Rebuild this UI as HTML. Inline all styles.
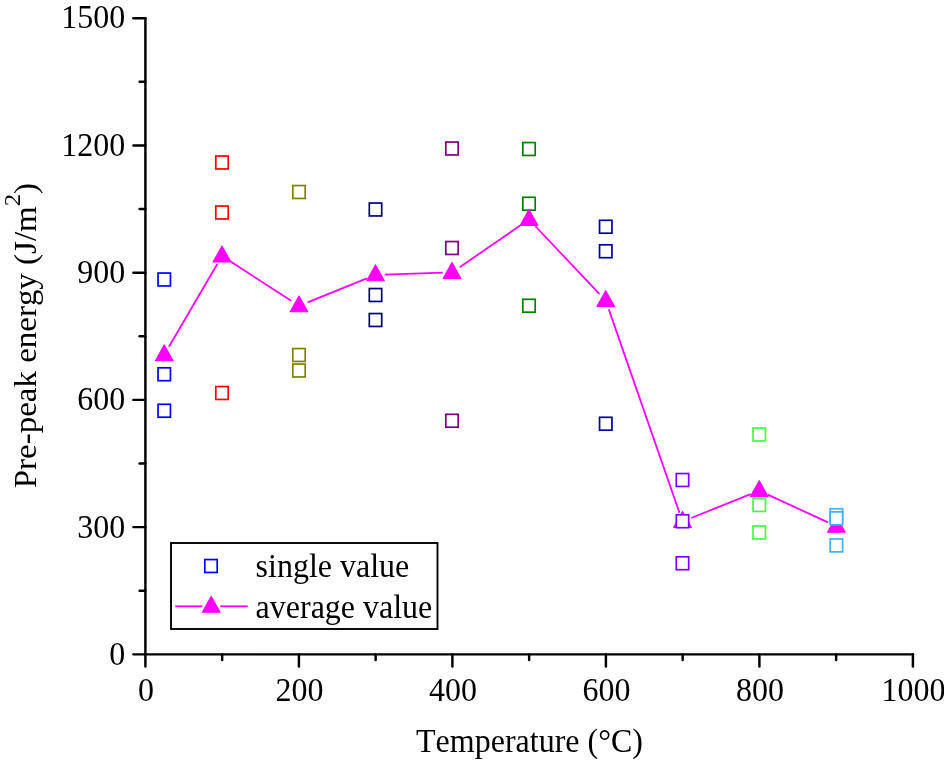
<!DOCTYPE html>
<html lang="en"><head><meta charset="utf-8"><title>Pre-peak energy vs temperature</title>
<style>
html,body{margin:0;padding:0;background:#fff;}
body{width:944px;height:762px;overflow:hidden;position:relative;}
svg{position:absolute;left:0;top:0;display:block;}
text{font-kerning:none;font-variant-ligatures:none;font-family:"Liberation Serif","Noto Serif CJK SC",serif;font-size:32px;fill:#000;}
</style></head><body>
<svg width="944" height="762" viewBox="0 0 944 762">
<rect x="0" y="0" width="944" height="762" fill="#fff"/>

<g stroke="#000" stroke-width="2.45" fill="none" stroke-linecap="round">
<line x1="145.4" y1="18.20" x2="145.4" y2="666.42"/>
<line x1="133.43" y1="654.35" x2="912.90" y2="654.35"/>
<line x1="139.62" y1="590.74" x2="145.4" y2="590.74"/>
<line x1="133.43" y1="527.12" x2="145.4" y2="527.12"/>
<line x1="139.62" y1="463.50" x2="145.4" y2="463.50"/>
<line x1="133.43" y1="399.89" x2="145.4" y2="399.89"/>
<line x1="139.62" y1="336.28" x2="145.4" y2="336.28"/>
<line x1="133.43" y1="272.66" x2="145.4" y2="272.66"/>
<line x1="139.62" y1="209.05" x2="145.4" y2="209.05"/>
<line x1="133.43" y1="145.43" x2="145.4" y2="145.43"/>
<line x1="139.62" y1="81.82" x2="145.4" y2="81.82"/>
<line x1="133.43" y1="18.20" x2="145.4" y2="18.20"/>
<line x1="222.15" y1="654.35" x2="222.15" y2="660.12"/>
<line x1="298.90" y1="654.35" x2="298.90" y2="666.42"/>
<line x1="375.65" y1="654.35" x2="375.65" y2="660.12"/>
<line x1="452.40" y1="654.35" x2="452.40" y2="666.42"/>
<line x1="529.15" y1="654.35" x2="529.15" y2="660.12"/>
<line x1="605.90" y1="654.35" x2="605.90" y2="666.42"/>
<line x1="682.65" y1="654.35" x2="682.65" y2="660.12"/>
<line x1="759.40" y1="654.35" x2="759.40" y2="666.42"/>
<line x1="836.15" y1="654.35" x2="836.15" y2="660.12"/>
<line x1="912.90" y1="654.35" x2="912.90" y2="666.42"/>
</g>
<g text-anchor="end">
<text transform="translate(125.30,664.95) scale(1,1.085)" text-anchor="end">0</text>
<text transform="translate(125.30,537.72) scale(1,1.085)" text-anchor="end">300</text>
<text transform="translate(125.30,410.49) scale(1,1.085)" text-anchor="end">600</text>
<text transform="translate(125.30,283.26) scale(1,1.085)" text-anchor="end">900</text>
<text transform="translate(125.30,156.03) scale(1,1.085)" text-anchor="end">1200</text>
<text transform="translate(125.30,27.60) scale(1,1.085)" text-anchor="end">1500</text>
</g><g text-anchor="middle">
<text transform="translate(146.00,700.90) scale(1,1.085)" text-anchor="middle">0</text>
<text transform="translate(299.50,700.90) scale(1,1.085)" text-anchor="middle">200</text>
<text transform="translate(453.00,700.90) scale(1,1.085)" text-anchor="middle">400</text>
<text transform="translate(606.50,700.90) scale(1,1.085)" text-anchor="middle">600</text>
<text transform="translate(760.00,700.90) scale(1,1.085)" text-anchor="middle">800</text>
<text transform="translate(913.50,700.90) scale(1,1.085)" text-anchor="middle">1000</text>
</g>
<text transform="translate(529.50,751.70) scale(1,1.065)" text-anchor="middle">Temperature (°C)</text>
<text transform="translate(35.5,335.6) rotate(-90) scale(1.031,1)" text-anchor="middle">Pre-peak energy (J/m<tspan font-size="24" dy="-15.5">2</tspan><tspan dy="15.5">)</tspan></text>
<rect x="158.05" y="273.05" width="12.4" height="12.9" fill="#fff" stroke="#0000ff" stroke-width="1.7"/>
<rect x="158.05" y="367.80" width="12.4" height="12.9" fill="#fff" stroke="#0000ff" stroke-width="1.7"/>
<rect x="158.05" y="404.30" width="12.4" height="12.9" fill="#fff" stroke="#0000ff" stroke-width="1.7"/>
<rect x="215.80" y="156.05" width="12.4" height="12.9" fill="#fff" stroke="#ff0000" stroke-width="1.7"/>
<rect x="215.80" y="206.05" width="12.4" height="12.9" fill="#fff" stroke="#ff0000" stroke-width="1.7"/>
<rect x="215.80" y="386.55" width="12.4" height="12.9" fill="#fff" stroke="#ff0000" stroke-width="1.7"/>
<rect x="292.80" y="185.55" width="12.4" height="12.9" fill="#fff" stroke="#808000" stroke-width="1.7"/>
<rect x="292.80" y="348.55" width="12.4" height="12.9" fill="#fff" stroke="#808000" stroke-width="1.7"/>
<rect x="292.80" y="364.05" width="12.4" height="12.9" fill="#fff" stroke="#808000" stroke-width="1.7"/>
<rect x="369.30" y="203.05" width="12.4" height="12.9" fill="#fff" stroke="#000080" stroke-width="1.7"/>
<rect x="369.30" y="288.55" width="12.4" height="12.9" fill="#fff" stroke="#000080" stroke-width="1.7"/>
<rect x="369.30" y="313.55" width="12.4" height="12.9" fill="#fff" stroke="#000080" stroke-width="1.7"/>
<rect x="445.80" y="142.05" width="12.4" height="12.9" fill="#fff" stroke="#800080" stroke-width="1.7"/>
<rect x="445.80" y="241.55" width="12.4" height="12.9" fill="#fff" stroke="#800080" stroke-width="1.7"/>
<rect x="445.80" y="414.30" width="12.4" height="12.9" fill="#fff" stroke="#800080" stroke-width="1.7"/>
<rect x="522.80" y="142.55" width="12.4" height="12.9" fill="#fff" stroke="#008000" stroke-width="1.7"/>
<rect x="522.80" y="197.30" width="12.4" height="12.9" fill="#fff" stroke="#008000" stroke-width="1.7"/>
<rect x="522.80" y="299.30" width="12.4" height="12.9" fill="#fff" stroke="#008000" stroke-width="1.7"/>
<rect x="599.55" y="220.30" width="12.4" height="12.9" fill="#fff" stroke="#0000a0" stroke-width="1.7"/>
<rect x="599.55" y="244.80" width="12.4" height="12.9" fill="#fff" stroke="#0000a0" stroke-width="1.7"/>
<rect x="599.55" y="417.30" width="12.4" height="12.9" fill="#fff" stroke="#0000a0" stroke-width="1.7"/>
<g stroke="#ff00ff" stroke-width="1.8" fill="none">
<line x1="168.94" y1="346.80" x2="217.31" y2="264.03"/>
<line x1="229.81" y1="261.05" x2="291.19" y2="300.78"/>
<line x1="307.62" y1="302.34" x2="366.88" y2="278.33"/>
<line x1="384.80" y1="274.54" x2="442.70" y2="272.71"/>
<line x1="459.66" y1="267.15" x2="521.34" y2="224.77"/>
<line x1="535.39" y1="226.25" x2="599.36" y2="293.83"/>
<line x1="608.80" y1="309.37" x2="679.45" y2="512.72"/>
<line x1="691.13" y1="518.03" x2="750.62" y2="494.13"/>
<line x1="767.69" y1="494.57" x2="827.96" y2="522.40"/>
</g>
<polygon points="164.25,344.93 173.05,360.73 155.45,360.73" fill="#ff00ff" stroke="#ff00ff" stroke-width="1.2" stroke-linejoin="round"/>
<polygon points="222.00,246.10 230.80,261.90 213.20,261.90" fill="#ff00ff" stroke="#ff00ff" stroke-width="1.2" stroke-linejoin="round"/>
<polygon points="299.00,295.93 307.80,311.73 290.20,311.73" fill="#ff00ff" stroke="#ff00ff" stroke-width="1.2" stroke-linejoin="round"/>
<polygon points="375.50,264.93 384.30,280.73 366.70,280.73" fill="#ff00ff" stroke="#ff00ff" stroke-width="1.2" stroke-linejoin="round"/>
<polygon points="452.00,262.52 460.80,278.32 443.20,278.32" fill="#ff00ff" stroke="#ff00ff" stroke-width="1.2" stroke-linejoin="round"/>
<polygon points="529.00,209.60 537.80,225.40 520.20,225.40" fill="#ff00ff" stroke="#ff00ff" stroke-width="1.2" stroke-linejoin="round"/>
<polygon points="605.75,290.68 614.55,306.48 596.95,306.48" fill="#ff00ff" stroke="#ff00ff" stroke-width="1.2" stroke-linejoin="round"/>
<polygon points="682.50,511.60 691.30,527.40 673.70,527.40" fill="#ff00ff" stroke="#ff00ff" stroke-width="1.2" stroke-linejoin="round"/>
<polygon points="759.25,480.77 768.05,496.57 750.45,496.57" fill="#ff00ff" stroke="#ff00ff" stroke-width="1.2" stroke-linejoin="round"/>
<polygon points="836.40,516.40 845.20,532.20 827.60,532.20" fill="#ff00ff" stroke="#ff00ff" stroke-width="1.2" stroke-linejoin="round"/>
<rect x="676.30" y="473.55" width="12.4" height="12.9" fill="#fff" stroke="#8000ff" stroke-width="1.7"/>
<rect x="676.30" y="514.80" width="12.4" height="12.9" fill="#fff" stroke="#8000ff" stroke-width="1.7"/>
<rect x="676.30" y="556.80" width="12.4" height="12.9" fill="#fff" stroke="#8000ff" stroke-width="1.7"/>
<rect x="753.05" y="428.05" width="12.4" height="12.9" fill="#fff" stroke="#40ff40" stroke-width="1.7"/>
<rect x="753.05" y="498.55" width="12.4" height="12.9" fill="#fff" stroke="#40ff40" stroke-width="1.7"/>
<rect x="753.05" y="526.05" width="12.4" height="12.9" fill="#fff" stroke="#40ff40" stroke-width="1.7"/>
<rect x="830.20" y="508.75" width="12.4" height="12.9" fill="#fff" stroke="#40b0ff" stroke-width="1.7"/>
<rect x="830.20" y="511.85" width="12.4" height="12.9" fill="#fff" stroke="#40b0ff" stroke-width="1.7"/>
<rect x="830.20" y="538.95" width="12.4" height="12.9" fill="#fff" stroke="#40b0ff" stroke-width="1.7"/>
<rect x="171" y="543" width="266.5" height="86" fill="#fff" stroke="#000" stroke-width="1.9"/>
<rect x="204.80" y="559.55" width="12.4" height="12.9" fill="#fff" stroke="#0000ff" stroke-width="1.7"/>
<g stroke="#ff00ff" stroke-width="1.8"><line x1="175.3" y1="606.3" x2="202.3" y2="606.3"/><line x1="220.2" y1="606.3" x2="247.6" y2="606.3"/></g>
<polygon points="211.20,596.40 220.00,612.20 202.40,612.20" fill="#ff00ff" stroke="#ff00ff" stroke-width="1.2" stroke-linejoin="round"/>
<text transform="translate(255.60,577.20) scale(1,1.065)" text-anchor="start">single value</text>
<text transform="translate(255.60,617.90) scale(1,1.065)" text-anchor="start">average value</text>
</svg></body></html>
